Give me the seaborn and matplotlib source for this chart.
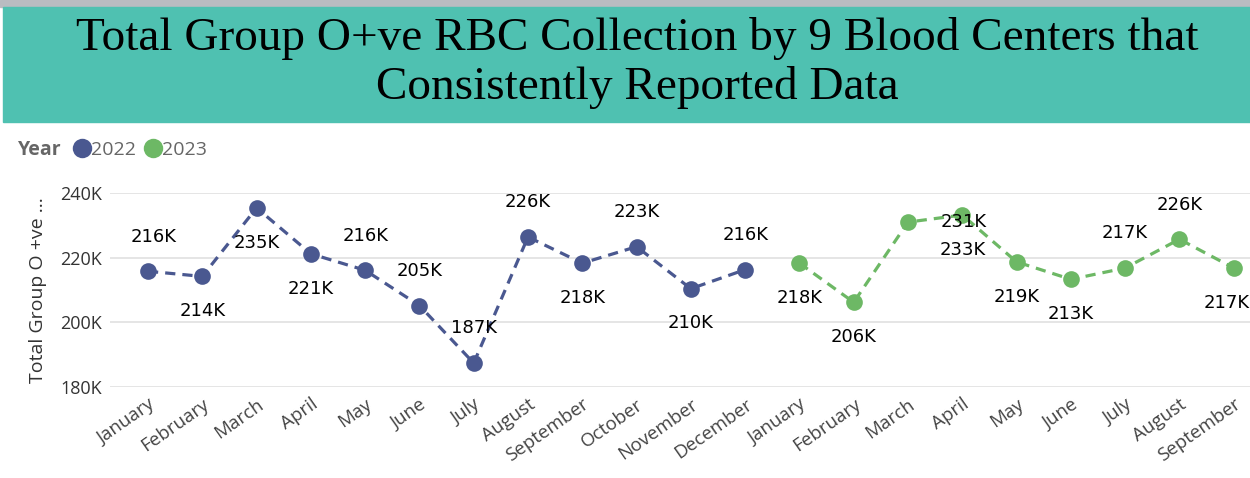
import pandas as pd
import seaborn as sns
import matplotlib.pyplot as plt
from matplotlib.patches import Rectangle
from matplotlib.lines import Line2D

# data
months_2022 = ["January", "February", "March", "April", "May", "June", "July",
               "August", "September", "October", "November", "December"]
months_2023 = ["January", "February", "March", "April", "May", "June", "July",
               "August", "September"]
values_2022 = [215800, 214200, 235400, 221200, 216100, 205200, 187400,
               226400, 218300, 223400, 210400, 216300]
values_2023 = [218300, 206200, 231000, 233200, 218700, 213300, 216800,
               225700, 216800]
years = ["2022", "2023"]
y_ticks = [180000, 200000, 220000, 240000]

df = pd.DataFrame({
    "month": months_2022 + months_2023,
    "year": [years[0]] * len(months_2022) + [years[1]] * len(months_2023),
    "value": values_2022 + values_2023,
})
df["pos"] = range(len(df))

palette = {"2022": "#4A5890", "2023": "#6DB865"}

sns.set_theme(style="white")
plt.rcParams["font.family"] = ["Open Sans", "DejaVu Sans"]

W, H = 1250, 478
fig = plt.figure(figsize=(W / 100, H / 100), dpi=100)

# title banner
fig.patches.append(Rectangle((0, 1 - 7 / H), 1, 7 / H, transform=fig.transFigure,
                             color="#B9BCC1", zorder=0))
fig.patches.append(Rectangle((3 / W, 1 - 122 / H), 1, 115 / H, transform=fig.transFigure,
                             color="#4FC1B1", zorder=1))
fig.text(637 / W, 1 - 63 / H,
         "Total Group O+ve RBC Collection by 9 Blood Centers that\nConsistently Reported Data",
         ha="center", va="center", fontsize=34, family="Liberation Serif",
         color="black", linespacing=1.18)

ax = fig.add_axes([110 / W, 1 - 387 / H, 1 - 110 / W, (387 - 193) / H])
sns.lineplot(data=df, x="pos", y="value", hue="year", style="year",
             palette=palette, markers={"2022": "o", "2023": "o"},
             dashes={"2022": (3.2, 2.2), "2023": (3.2, 2.2)},
             markersize=12, markeredgewidth=0, linewidth=2.3,
             legend=False, ax=ax)

# data labels: +1 below the point, -1 above, 0 beside
label_side = [-1, 1, 1, 1, -1, -1, -1, -1, 1, -1, 1, -1,
              1, 1, 0, 1, 1, 1, -1, -1, 1]
last = len(df) - 1
for (_, row), side in zip(df.iterrows(), label_side):
    txt = f"{row['value'] / 1000:.0f}K"
    if side == 0:
        off = (40, 0)
    else:
        dx = 4 if row["pos"] == 0 else (-5 if row["pos"] == last else 0)
        off = (dx, -side * 25)
    ax.annotate(txt, (row["pos"], row["value"]), xytext=off,
                textcoords="offset points", ha="center", va="center",
                fontsize=13, family="DejaVu Sans", color="black",
                annotation_clip=False, zorder=5)

ax.set_xlim(-0.7, len(df) - 0.7)
ax.set_ylim(y_ticks[0], y_ticks[-1])
ax.set_yticks(y_ticks)
ax.set_yticklabels([f"{t // 1000}K" for t in y_ticks], fontsize=13, color="#333333")
ax.set_xticks(df["pos"])
ax.set_xticklabels(df["month"], rotation=35, ha="right", rotation_mode="anchor",
                   fontsize=13.5, color="#444444")
ax.tick_params(axis="both", length=0, pad=6)
ax.yaxis.grid(True, color="#E3E3E3", linewidth=1.3)
ax.set_axisbelow(True)
for s in ax.spines.values():
    s.set_visible(False)
ax.set_xlabel("")
ax.set_ylabel("Total Group O +ve ...", fontsize=14, color="#333333", labelpad=9)

# legend
fig.text(18 / W, 1 - 150 / H, "Year", ha="left", va="center", fontsize=14,
         fontweight="bold", color="#666666")
handles = [Line2D([], [], marker="o", linestyle="", markersize=14,
                  markerfacecolor=palette[y], markeredgewidth=0) for y in years]
fig.legend(handles, years, loc="center left", bbox_to_anchor=(74 / W, 1 - 150 / H),
           ncol=2, frameon=False, fontsize=14, labelcolor="#666666",
           handlelength=0.8, handletextpad=0.05, columnspacing=0.5,
           borderpad=0, borderaxespad=0)

fig.savefig("out.png", dpi=100)
